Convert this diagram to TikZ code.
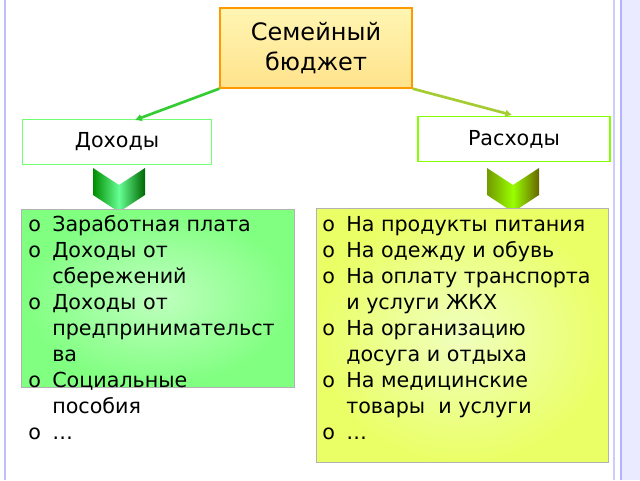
\documentclass[tikz,border=0pt]{standalone}
\usepackage{fontspec}
\usetikzlibrary{arrows.meta}
\setmainfont{DejaVu Sans}
\begin{document}
\begin{tikzpicture}[x=0.75pt,y=-0.75pt,
  hdr/.style={draw=#1,line width=1pt,fill=white,minimum height=34pt,inner sep=0pt,font=\fontsize{15.5pt}{18pt}\selectfont},
  lst/.style={draw=gray!60,line width=0.6pt},
  txt/.style={anchor=north west,inner sep=0pt,align=left,font=\fontsize{15.5pt}{19.5pt}\selectfont},
  conn/.style={line width=2pt,-{Latex[length=5pt,width=6pt]}}]
\useasboundingbox (0,0) rectangle (640,480);
\fill[white] (0,0) rectangle (640,480);
% frame
\fill[blue!8] (620,0) rectangle (640,480);
\draw[blue!30,line width=1.5pt] (621,0) -- (621,480);
\draw[blue!25,line width=2pt] (5,0) -- (5,480);
\draw[blue!20,line width=1pt] (614,0) -- (614,480);
% top
\node[draw=orange!80!yellow,line width=1pt,inner sep=0pt,minimum width=144pt,minimum height=60pt,
  top color=orange!25!yellow!30,bottom color=orange!50!yellow!45,
  align=center,font=\fontsize{18pt}{22pt}\selectfont] (top) at (316,48) {Семейный\\бюджет};
\node[hdr=green!55,minimum width=142pt] (inc) at (117,142) {Доходы};
\node[hdr=lime!70!green,minimum width=144pt] (exp) at (514,139) {Расходы};
\draw[conn,green!60!gray] (top.south west) -- (135,120);
\draw[conn,lime!60!gray] (top.south east) -- (512,115);
% chevrons
\shade[left color=green!55!black,right color=green!40!black,middle color=green!70!cyan!60]
 (93,168) -- (119,185) -- (145,168) -- (145,195) -- (119,212) -- (93,195) -- cycle;
\shade[left color=lime!60!black,right color=olive!80!black,middle color=lime!80!green]
 (487,168) -- (513,185) -- (539,168) -- (539,195) -- (513,212) -- (487,195) -- cycle;
% lists
\shade[lst,inner color=green!25!white,outer color=green!50!white] (21,209) rectangle (294,387);
\shade[lst,inner color=lime!25!white,outer color=lime!55!yellow!60] (316,208) rectangle (608,462);
\node[txt] (ltxt) at (28,213) {\begin{tabular}{@{}p{18pt}@{}l@{}}
o & Заработная плата\\ o & Доходы от\\ & сбережений\\ o & Доходы от\\ & предпринимательст\\ & ва\\ o & Социальные\\ & пособия\\ o & \dots\end{tabular}};
\node[txt] (rtxt) at (322,213) {\begin{tabular}{@{}p{18pt}@{}l@{}}
o & На продукты питания\\ o & На одежду и обувь\\ o & На оплату транспорта\\ & и услуги ЖКХ\\ o & На организацию\\ & досуга и отдыха\\ o & На медицинские\\ & товары\ \ и услуги\\ o & \dots\end{tabular}};
\end{tikzpicture}
\end{document}
